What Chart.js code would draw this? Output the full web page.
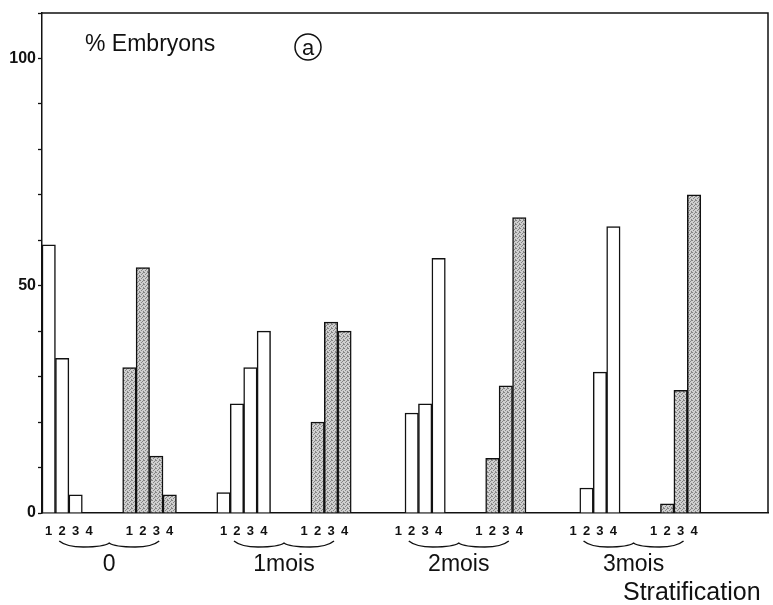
<!DOCTYPE html>
<html>
<head>
<meta charset="utf-8">
<script src="https://cdn.jsdelivr.net/npm/chart.js@4"></script>
<style>
  body { margin: 0; background: #fff; }
  #wrap { width: 773px; height: 605px; }
</style>
</head>
<body>
<div id="wrap"><canvas id="mycanvas" width="773" height="605"></canvas></div>
<script>
// stratification groups and embryo classes
var groupes = ['0', '1mois', '2mois', '3mois'];
var classes = ['1', '2', '3', '4'];
// % embryons, white bars (per group, classes 1..4)
var blancs = [
  [59, 34, 4, 0],
  [4.5, 24, 32, 40],
  [0, 22, 24, 56],
  [0, 5.5, 31, 63]
];
// % embryons, stippled bars
var gris = [
  [32, 54, 12.5, 4],
  [0, 20, 42, 40],
  [0, 12, 28, 65],
  [0, 2, 27, 70]
];
var yTicks = [0, 50, 100];

// build slot layout: 4 white, 2 empty, 4 grey, 3 empty per group
var labels = [], dataBlanc = [], dataGris = [], groupSlots = [];
for (var g = 0; g < groupes.length; g++) {
  var start = labels.length;
  for (var i = 0; i < 4; i++) { labels.push(classes[i]); dataBlanc.push(blancs[g][i]); dataGris.push(null); }
  for (var i = 0; i < 2; i++) { labels.push(''); dataBlanc.push(null); dataGris.push(null); }
  for (var i = 0; i < 4; i++) { labels.push(classes[i]); dataBlanc.push(null); dataGris.push(gris[g][i]); }
  groupSlots.push([start, labels.length - 1]);
  for (var i = 0; i < 3; i++) { labels.push(''); dataBlanc.push(null); dataGris.push(null); }
}
labels.push(''); labels.push(''); dataBlanc.push(null, null); dataGris.push(null, null);

// stipple pattern for grey bars
var pc = document.createElement('canvas');
pc.width = 4; pc.height = 4;
var px = pc.getContext('2d');
px.fillStyle = '#cfcfcf'; px.fillRect(0, 0, 4, 4);
px.fillStyle = '#858585';
[[0,0],[2,1],[1,2],[3,3],[3,0]].forEach(function (p) { px.fillRect(p[0], p[1], 1, 1); });
var ctx = document.getElementById('mycanvas').getContext('2d');
var stipple = ctx.createPattern(pc, 'repeat');

var FONT = '"Liberation Sans", Arial, sans-serif';

var decor = {
  id: 'decor',
  afterDraw: function (chart) {
    var c = chart.ctx, a = chart.chartArea, x = chart.scales.x;
    c.save();
    c.strokeStyle = '#111';
    c.lineWidth = 1.5;
    c.beginPath();
    c.moveTo(a.left, a.top); c.lineTo(a.right, a.top); c.lineTo(a.right, a.bottom);
    c.stroke();

    var slot = x.getPixelForValue(1) - x.getPixelForValue(0);
    c.fillStyle = '#111';
    c.textAlign = 'center';
    c.textBaseline = 'alphabetic';
    for (var g = 0; g < groupSlots.length; g++) {
      var l = x.getPixelForValue(groupSlots[g][0]) - slot / 2;
      var r = x.getPixelForValue(groupSlots[g][1]) + slot / 2;
      var xc = (l + r) / 2, x0 = xc - 50, x1 = xc + 50, y0 = 547;
      // horizontal curly brace
      c.lineWidth = 1.4;
      c.beginPath();
      c.moveTo(x0, y0 - 6);
      c.bezierCurveTo(x0 + 6, y0 - 1, x0 + 14, y0, x0 + 24, y0);
      c.bezierCurveTo(xc - 12, y0, xc - 4, y0 - 1, xc, y0 - 4);
      c.bezierCurveTo(xc + 4, y0 - 1, xc + 12, y0, x1 - 24, y0);
      c.bezierCurveTo(x1 - 14, y0, x1 - 6, y0 - 1, x1, y0 - 6);
      c.stroke();
      c.font = '23px ' + FONT;
      c.fillText(groupes[g], xc, 571);
    }

    c.textAlign = 'left';
    c.font = '23px ' + FONT;
    c.fillText('% Embryons', 85, 51);
    c.font = '25px ' + FONT;
    c.fillText('Stratification', 623, 600);

    // circled letter
    c.lineWidth = 1.5;
    c.beginPath();
    c.arc(308, 47, 13, 0, Math.PI * 2);
    c.stroke();
    c.textAlign = 'center';
    c.font = '22px ' + FONT;
    c.fillText('a', 308, 55);
    c.restore();
  }
};

new Chart(ctx, {
  type: 'bar',
  data: {
    labels: labels,
    datasets: [
      { label: 'blanc', data: dataBlanc, backgroundColor: '#ffffff', borderColor: '#111', borderWidth: 1.5,
        barPercentage: 1, categoryPercentage: 1, grouped: false },
      { label: 'gris', data: dataGris, backgroundColor: stipple, borderColor: '#111', borderWidth: 1.5,
        barPercentage: 1, categoryPercentage: 1, grouped: false }
    ]
  },
  options: {
    responsive: false,
    animation: false,
    layout: { padding: { left: 0, right: 5, top: 13, bottom: 0 } },
    plugins: { legend: { display: false }, tooltip: { enabled: false } },
    scales: {
      x: {
        grid: { display: false },
        border: { color: '#111', width: 1.5 },
        ticks: { autoSkip: false, maxRotation: 0, padding: 3, color: '#111',
                 font: { family: FONT, size: 13, weight: 'bold' } },
        afterFit: function (s) { s.height = 92; }
      },
      y: {
        min: 0, max: 110,
        grid: { drawOnChartArea: false, tickLength: 4, color: '#111', tickWidth: 1.3 },
        border: { color: '#111', width: 1.5 },
        ticks: { stepSize: 10, padding: 2, color: '#111',
                 font: { family: FONT, size: 16, weight: 'bold' },
                 callback: function (v) { return yTicks.indexOf(v) >= 0 ? String(v) : ''; } },
        afterFit: function (s) { s.width = 42; }
      }
    }
  },
  plugins: [decor]
});
</script>
</body>
</html>
